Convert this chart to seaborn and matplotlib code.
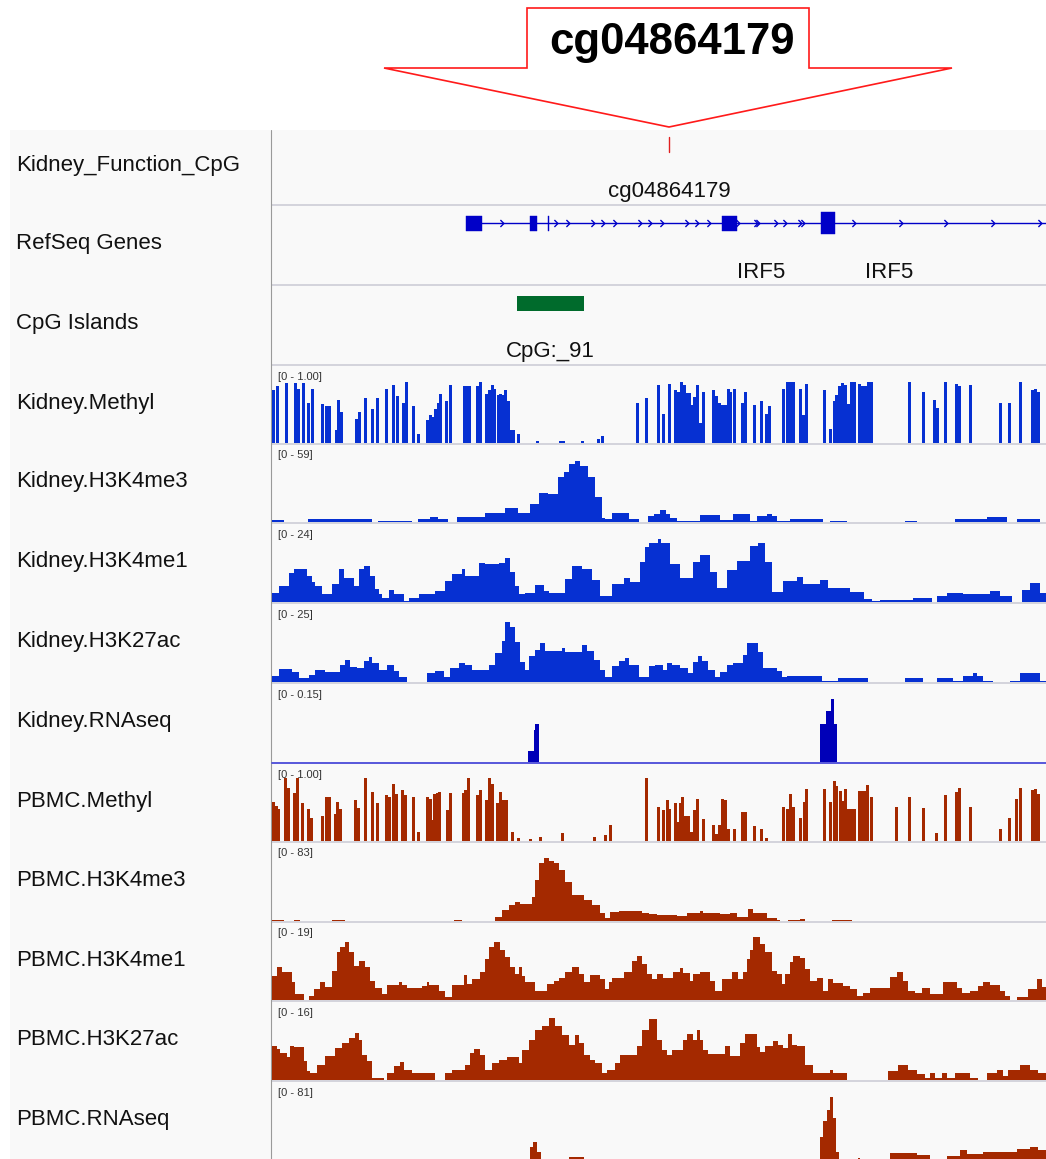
import numpy as np
import matplotlib
matplotlib.use("Agg")
import matplotlib.pyplot as plt
from matplotlib.patches import Polygon, Rectangle
import seaborn as sns

# ------------------------------------------------------------------ data
VIEW_START, VIEW_END = 0, 774          # relative genomic coordinate of the view

track_names = ["Kidney_Function_CpG", "RefSeq Genes", "CpG Islands",
               "Kidney.Methyl", "Kidney.H3K4me3", "Kidney.H3K4me1", "Kidney.H3K27ac",
               "Kidney.RNAseq", "PBMC.Methyl", "PBMC.H3K4me3", "PBMC.H3K4me1",
               "PBMC.H3K27ac", "PBMC.RNAseq"]

title_probe = "cg04864179"
probe_pos = 397
probe_name = "cg04864179"

gene_start, gene_end = 194, 774
exon_start = [194, 258, 275.5, 450, 549]
exon_end = [210, 265, 277, 465, 563]
exon_kind = ["utr", "utr", "utr", "utr", "cds"]
strand_marks = [229.5, 283.8, 296, 320.8, 330.7, 343, 367.7, 377.6, 390, 414.6, 424.5,
                436.8, 466.4, 483.7, 486, 503.5, 513.3, 528, 530.5, 582.4, 629.3, 673.7,
                720.6, 767.5]
gene_labels = ["IRF5", "IRF5"]
gene_label_pos = [489.5, 617]

cpg_island = (245, 312)
cpg_label = "CpG:_91"
cpg_label_pos = 278

# methylation: (CpG position, beta value)
kidney_methyl = [(1.3, .68), (5, .73), (14.7, .77), (23.3, .77), (26, .69), (31, .77), (36, .51),
                 (40, .69), (50.7, .50), (54.5, .47), (57.3, .47), (64, .17), (66.5, .55), (69, .40),
                 (84, .31), (87, .40), (93, .58), (100.7, .44), (105.7, .58), (114.7, .69), (121.5, .74),
                 (125, .60), (131, .51), (134, .78), (141.7, .47), (146.3, .12), (155.5, .29), (158.3, .36),
                 (161.3, .33), (163.5, .44), (166, .51), (168.5, .63), (174, .54), (178.3, .74), (192, .73),
                 (194.8, .73), (197.5, .73), (205.5, .73), (208.7, .78), (214.7, .63), (217.2, .68),
                 (220, .74), (222.8, .69), (226, .62), (228.7, .63), (231.2, .62), (233.7, .68),
                 (236.2, .54), (238.7, .17), (241, .17), (246.7, .12), (265, .03), (288, .03), (291, .03),
                 (310.5, .03), (326.7, .05), (330, .09), (365, .51), (374.3, .58), (386.3, .74),
                 (391.3, .37), (397, .76), (403.3, .68), (406, .65), (409.3, .78), (412, .74), (414.5, .64),
                 (417, .64), (419.5, .49), (422.7, .59), (425.5, .74), (428.7, .26), (431.8, .65),
                 (441, .68), (444, .60), (447, .51), (450, .49), (453, .49), (456, .69), (458.5, .65),
                 (462, .69), (470, .51), (473, .65), (482, .49), (489, .54), (494, .37), (497, .47),
                 (511, .69), (515, .78), (518, .78), (521, .78), (528, .69), (531, .36), (534, .76),
                 (552, .68), (558, .18), (562, .54), (564.5, .62), (567, .73), (570, .77), (573, .74),
                 (576, .50), (579, .78), (582, .78), (587, .76), (590, .73), (593, .73), (596, .78),
                 (599, .78), (637, .78), (651, .65), (662, .55), (665, .45), (673, .78), (684, .76),
                 (687, .73), (698, .74), (728, .51), (737, .51), (748, .78), (760, .68), (763, .69),
                 (766, .65)]

pbmc_methyl = [(1.3, .50), (4.7, .45), (6.5, .41), (13.8, .81), (16.3, .68), (22.5, .62), (25, .81),
               (30.7, .49), (36.8, .41), (39.8, .29), (50.3, .32), (54.5, .56), (57.3, .56), (63.5, .35),
               (65.5, .50), (68.3, .41), (83.7, .53), (86.7, .42), (93, .81), (100.3, .63), (105.3, .49),
               (114.7, .59), (117, .56), (121.7, .73), (124.8, .60), (130.5, .65), (133.5, .59),
               (141.3, .56), (146.3, .12), (155.5, .56), (158, .54), (160.3, .27), (162.7, .60),
               (165.3, .62), (167.7, .63), (175.3, .40), (178.3, .62), (191.8, .62), (193.9, .65),
               (196.3, .81), (205.3, .59), (208.7, .65), (214.7, .53), (217.3, .81), (220.2, .73),
               (225.3, .49), (228.3, .63), (231.3, .53), (234.3, .53), (240.3, .12), (246.7, .04),
               (258, .02), (268, .05), (290.7, .10), (322, .05), (333.5, .08), (338, .21), (374.3, .81),
               (386.3, .44), (391.3, .40), (395, .53), (397.5, .41), (403.3, .49), (406, .24),
               (408.5, .49), (410.7, .56), (413, .32), (416, .32), (419.3, .12), (422.7, .40),
               (425.3, .54), (431.2, .28), (441, .21), (444.5, .09), (447.5, .21), (450.5, .54),
               (453.5, .53), (456.5, .15), (462, .15), (470, .37), (473, .37), (482, .19), (489, .15),
               (494, .04), (511, .44), (515, .41), (518, .60), (521, .44), (528, .29), (532, .50),
               (534.5, .67), (552, .67), (558, .50), (562, .77), (564.5, .71), (568, .64), (571, .51),
               (573.3, .67), (576.3, .41), (579, .41), (582, .41), (587, .64), (590, .64), (593, .64),
               (595.5, .72), (599, .56), (624.3, .44), (637.8, .56), (651, .42), (664.7, .10),
               (673, .59), (684, .63), (687, .68), (698, .44), (728, .15), (737, .29), (744, .54),
               (748, .68), (760, .65), (763, .67), (766, .60)]

# coverage tracks: (segment start, signal) ; each segment runs to the next start
kidney_h3k4me3 = [(0, 1.5), (12, 0), (36, 2.3), (100, 0), (106, .8), (140, 0), (146, 2.3), (158, 3.8),
                  (166, 2.3), (176, 0), (185, 3.8), (213, 6.8), (233, 10.6), (246, 6.8), (258, 13.6),
                  (267, 21.9), (276, 21.2), (286, 34.0), (292, 37.8), (297, 43.8), (303, 46.1),
                  (308, 42.3), (316, 34.0), (323, 18.9), (330, 3.0), (333, 2.3), (340, 6.8), (357, 2.3),
                  (367, 0), (376, 4.5), (382, 6.0), (388, 9.1), (394, 6.0), (398, 3.0), (405, .8),
                  (428, 5.3), (448, 1.5), (461, 6.0), (478, .8), (485, 4.5), (495, 6.0), (500, 4.5),
                  (505, .8), (518, 2.3), (551, 0), (558, .8), (575, 0), (633, .8), (645, 0), (683, 2.3),
                  (715, 3.8), (735, 0), (745, 2.3), (768, 0)]

kidney_h3k4me1 = [(0, 2.8), (7, 4.9), (17, 8.9), (22, 10.2), (35, 8.0), (40, 6.2), (43, 4.9), (50, 2.5),
                  (60, 5.5), (67, 10.2), (72, 7.4), (82, 4.9), (87, 10.2), (92, 11.1), (98, 8.0),
                  (103, 4.0), (107, 2.5), (110, 1.2), (117, 3.7), (122, 2.5), (132, .3), (137, 1.2),
                  (147, 2.5), (163, 3.4), (173, 6.5), (180, 8.6), (190, 10.2), (193, 8.0), (207, 12.0),
                  (213, 11.7), (227, 12.0), (233, 13.6), (238, 9.2), (243, 4.9), (247, 2.5), (253, 2.8),
                  (263, 5.2), (272, 3.4), (277, 2.8), (293, 7.1), (300, 11.1), (310, 10.2), (320, 6.8),
                  (328, 1.8), (340, 5.5), (352, 7.4), (358, 6.2), (368, 12.3), (373, 16.9), (377, 18.2),
                  (386, 19.4), (389, 18.2), (398, 11.7), (408, 7.4), (421, 12.3), (428, 14.5), (438, 9.2),
                  (445, 4.3), (455, 9.9), (465, 12.6), (478, 17.2), (486, 18.2), (493, 12.3), (500, 3.1),
                  (511, 6.5), (525, 7.7), (531, 5.5), (548, 6.8), (556, 4.3), (578, 3.1), (592, .9),
                  (600, .3), (608, .6), (641, 1.2), (660, 0), (665, 1.8), (675, 2.8), (691, 2.5),
                  (718, 3.4), (728, 1.8), (740, 0), (750, 3.7), (758, 5.9), (768, 2.8)]

kidney_h3k27ac = [(0, 1.9), (7, 4.2), (20, 3.2), (27, 1.3), (37, 2.2), (43, 3.8), (53, 3.2), (68, 5.4),
                  (73, 7.0), (78, 4.8), (85, 4.5), (92, 6.7), (97, 8.0), (100, 6.1), (107, 3.8),
                  (115, 5.4), (122, 3.5), (127, 1.6), (135, 0), (155, 2.9), (163, 3.5), (172, 1.6),
                  (178, 4.5), (187, 6.1), (193, 5.4), (200, 3.8), (217, 5.4), (223, 9.3), (230, 13.1),
                  (233, 19.2), (238, 17.6), (243, 12.8), (248, 6.4), (253, 3.8), (257, 8.3), (263, 10.2),
                  (268, 12.5), (273, 9.9), (290, 10.9), (293, 9.6), (310, 11.8), (315, 9.9), (322, 7.0),
                  (328, 3.8), (333, 1.6), (340, 5.1), (347, 6.7), (353, 7.7), (357, 5.4), (367, 1.6),
                  (377, 5.1), (383, 5.4), (391, 3.8), (395, 6.1), (400, 5.4), (408, 4.5), (416, 2.9),
                  (421, 6.4), (426, 8.3), (430, 6.7), (436, 3.8), (443, 1.6), (448, 3.2), (455, 5.4),
                  (461, 6.1), (471, 8.6), (475, 12.5), (486, 9.6), (491, 4.5), (505, 3.5), (510, 1.6),
                  (515, 1.9), (550, .3), (566, 1.3), (596, 0), (633, 1.3), (651, 0), (665, 1.3),
                  (681, .3), (691, 1.9), (701, 2.9), (705, 1.9), (711, .3), (721, 0), (738, .3),
                  (748, 2.9), (768, .3)]

kidney_rnaseq = [(0, 0), (256, .021), (262, .062), (263, .073), (267, 0), (548, .073), (554, .098),
                 (559, .121), (562, .073), (565, 0)]

pbmc_h3k4me3 = [(0, 1.1), (12, 0), (22, 1.1), (28, 0), (60, 1.1), (73, 0), (182, 1.1), (190, 0),
                (223, 4.3), (230, 11.7), (237, 17.0), (243, 20.2), (248, 18.1), (260, 25.5), (263, 43.6),
                (267, 61.7), (272, 67.0), (277, 63.8), (282, 61.7), (287, 54.3), (293, 41.5), (300, 27.7),
                (312, 22.3), (320, 17.0), (328, 8.5), (333, 3.2), (338, 9.6), (347, 10.6), (370, 8.5),
                (377, 7.4), (385, 6.4), (405, 5.3), (415, 8.5), (428, 10.6), (431, 8.5), (448, 7.4),
                (458, 8.5), (465, 4.3), (476, 12.8), (481, 8.5), (495, 3.2), (505, 1.1), (508, 0),
                (516, 1.1), (528, 2.1), (533, 0), (560, 1.1), (580, 0)]

pbmc_h3k4me1 = [(0, 5.9), (5, 8.1), (10, 6.8), (20, 4.4), (23, 1.5), (32, 0), (37, 1.0), (42, 2.7),
                (48, 4.4), (53, 3.2), (60, 7.1), (65, 11.7), (68, 12.9), (73, 14.2), (77, 11.7), (82, 8.3),
                (87, 9.5), (93, 8.1), (98, 4.6), (103, 2.9), (110, 1.5), (115, 3.7), (127, 4.4),
                (130, 3.7), (135, 2.9), (150, 3.4), (155, 4.4), (157, 3.7), (167, 2.2), (173, .7),
                (180, 3.7), (192, 6.1), (195, 3.9), (200, 5.1), (208, 6.8), (213, 10.0), (217, 12.9),
                (222, 14.2), (228, 12.2), (233, 10.5), (238, 8.1), (243, 6.3), (247, 8.1), (250, 5.9),
                (253, 4.4), (263, 2.2), (275, 3.9), (282, 4.6), (287, 5.4), (293, 6.8), (300, 8.1),
                (307, 6.3), (312, 4.4), (318, 6.1), (328, 5.1), (333, 2.7), (337, 4.4), (340, 5.4),
                (352, 6.8), (360, 9.5), (365, 10.7), (370, 8.8), (375, 6.3), (380, 5.1), (385, 6.3),
                (391, 5.4), (401, 6.8), (408, 7.8), (411, 6.6), (418, 4.6), (421, 6.3), (428, 6.8),
                (438, 4.6), (443, 2.2), (450, 5.1), (460, 6.8), (466, 5.1), (471, 6.8), (475, 10.0),
                (478, 12.2), (481, 15.4), (488, 13.7), (493, 11.7), (500, 7.1), (505, 6.3), (510, 3.9),
                (513, 6.3), (518, 9.3), (521, 10.7), (528, 10.2), (533, 7.6), (538, 4.6), (545, 5.4),
                (551, 2.2), (556, 5.1), (561, 4.1), (571, 3.4), (578, 2.7), (585, 1.0), (591, 1.7),
                (598, 2.9), (618, 5.6), (625, 6.8), (631, 4.6), (636, 2.2), (643, 1.7), (650, 2.9),
                (658, 1.5), (671, 4.4), (685, 2.9), (690, 1.7), (698, 2.2), (706, 3.4), (711, 4.4),
                (718, 3.7), (728, 2.2), (733, 1.0), (738, 0), (745, .7), (756, 2.7), (765, 5.1),
                (770, 3.2)]

pbmc_h3k27ac = [(0, 7.0), (5, 6.4), (8, 5.5), (15, 4.7), (18, 7.0), (22, 6.8), (32, 3.9), (35, 1.8),
                (38, 1.4), (45, 3.1), (53, 4.9), (63, 6.6), (70, 7.6), (77, 8.6), (83, 9.6), (87, 8.2),
                (90, 5.1), (95, 3.9), (100, .4), (112, 0), (115, 1.4), (122, 2.9), (128, 3.7), (132, 2.1),
                (140, 1.4), (163, 0), (173, 1.4), (180, 2.1), (193, 3.1), (198, 5.5), (202, 6.4),
                (208, 5.1), (213, 2.1), (220, 3.5), (227, 4.1), (235, 4.7), (247, 3.5), (250, 6.2),
                (257, 8.2), (263, 10.3), (270, 11.1), (277, 12.7), (283, 11.1), (290, 9.2), (297, 7.2),
                (303, 9.2), (307, 7.6), (312, 5.1), (318, 4.1), (323, 3.5), (330, 1.4), (335, 2.1),
                (343, 3.5), (348, 5.1), (365, 7.0), (370, 10.3), (377, 12.5), (385, 8.2), (390, 6.2),
                (395, 5.1), (400, 6.2), (411, 8.2), (415, 9.4), (421, 8.2), (425, 10.3), (428, 8.2),
                (431, 6.2), (436, 5.3), (453, 7.0), (458, 4.9), (468, 7.6), (473, 9.4), (485, 6.8),
                (488, 5.7), (493, 7.0), (501, 8.0), (506, 7.2), (511, 6.6), (516, 9.4), (520, 7.2),
                (525, 7.0), (533, 3.1), (541, 1.4), (558, 2.1), (561, 1.4), (575, 0), (616, 1.8),
                (626, 3.1), (636, 2.1), (645, 1.2), (653, .4), (658, 1.4), (663, .4), (670, 1.4),
                (675, .4), (683, 1.4), (698, .4), (706, 0), (715, 1.4), (725, 2.1), (731, .8),
                (736, 2.1), (748, 3.1), (758, 2.1), (766, 1.4)]

pbmc_rnaseq = [(0, 0), (258, 14), (261, 19), (265, 8), (269, 0), (297, 3), (312, 0), (548, 24),
               (551, 41), (555, 52), (558, 65), (561, 44), (564, 8), (567, 0), (586, 2), (588, 0),
               (618, 7), (645, 5), (658, 0), (675, 4), (688, 10), (695, 6), (711, 8), (745, 11),
               (758, 13), (766, 10)]

range_labels = {3: "[0 - 1.00]", 4: "[0 - 59]", 5: "[0 - 24]", 6: "[0 - 25]", 7: "[0 - 0.15]",
                8: "[0 - 1.00]", 9: "[0 - 83]", 10: "[0 - 19]", 11: "[0 - 16]", 12: "[0 - 81]"}
range_max = {3: 1.0, 4: 59, 5: 24, 6: 25, 7: 0.15, 8: 1.0, 9: 83, 10: 19, 11: 16, 12: 81}

# ------------------------------------------------------------------ style / layout
sns.set_style("white")
plt.rcParams["font.family"] = ["Liberation Sans", "DejaVu Sans"]

W, H = 1046, 1159
KIDNEY = "#0630d2"
KIDNEY_RNA = "#0000b8"
PBMC = "#a42900"
GENE = "#0000c8"
SEP = "#d3d3dc"
PANEL = "#f9f9f9"
DATA_X0 = 272
T = [130, 205, 285, 365, 444, 523, 603, 683, 763, 842, 922, 1001, 1081, 1161]

fig = plt.figure(figsize=(W / 100, H / 100), dpi=100)
bg = fig.add_axes([0, 0, 1, 1])
bg.set_xlim(0, W)
bg.set_ylim(H, 0)
bg.axis("off")

# panel backgrounds
bg.add_patch(Rectangle((10, 130), W - 10, H - 130, facecolor=PANEL, edgecolor="none", zorder=0))
bg.plot([271, 271], [130, H], color="#9a9a9a", lw=0.8, zorder=2)
for i in range(1, 13):
    if i == 8:
        bg.plot([DATA_X0, W], [762.5, 762.5], color="#4a4ad8", lw=1.3, zorder=3)
    else:
        bg.plot([DATA_X0, W], [T[i], T[i]], color=SEP, lw=1.4, zorder=1)

# track names
for i, name in enumerate(track_names):
    bg.text(16, (T[i] + T[i + 1]) / 2 - 1.5, name, fontsize=16, va="center", ha="left",
            color="#111111", zorder=3)

# range labels
for i, lab in range_labels.items():
    bg.text(278, T[i] + 11.5, lab, fontsize=8, va="center", ha="left", color="#333333", zorder=1)

# title arrow
arrow = Polygon([(527, 8), (809, 8), (809, 68), (952, 68), (669, 127), (384, 68), (527, 68)],
                closed=True, facecolor="white", edgecolor="#ff1a1a", lw=1.2, zorder=2)
bg.add_patch(arrow)
bg.text(672, 54, title_probe, fontsize=31.5, fontweight="bold", ha="center", va="baseline",
        color="black", zorder=3)


def track_axes(top, bottom):
    ax = fig.add_axes([DATA_X0 / W, 1 - bottom / H, (W - DATA_X0) / W, (bottom - top) / H])
    ax.set_facecolor("none")
    ax.set_xlim(VIEW_START, VIEW_END)
    ax.axis("off")
    return ax


def feature_axes(i):
    ax = track_axes(T[i], T[i + 1])
    ax.set_ylim(T[i + 1] - T[i], 0)
    return ax


# Kidney_Function_CpG track
ax = feature_axes(0)
ax.plot([probe_pos, probe_pos], [7, 22], color="#e02020", lw=1.0)
ax.text(probe_pos, 61, probe_name, fontsize=16, ha="center", va="center", color="#111111")

# RefSeq genes
ax = feature_axes(1)
ax.plot([gene_start, gene_end], [18, 18], color=GENE, lw=1.0, solid_capstyle="butt")
for s, e, k in zip(exon_start, exon_end, exon_kind):
    hh = 22 if k == "cds" else 15
    ax.add_patch(Rectangle((s, 18 - hh / 2), e - s, hh, facecolor=GENE, edgecolor=GENE, lw=0.3))
chev = [(-0.6, 1.0), (0.4, 0.0), (-0.6, -1.0)]
ax.plot(strand_marks, [18] * len(strand_marks), ls="none", marker=chev, ms=5.0,
        mfc="none", mec=GENE, mew=1.0)
for lab, p in zip(gene_labels, gene_label_pos):
    ax.text(p, 67, lab, fontsize=16, ha="center", va="center", color="#111111")

# CpG islands
ax = feature_axes(2)
ax.add_patch(Rectangle((cpg_island[0], 11), cpg_island[1] - cpg_island[0], 15,
                       facecolor="#006b2c", edgecolor="none"))
ax.text(cpg_label_pos, 67, cpg_label, fontsize=16, ha="center", va="center", color="#111111")


def methyl_track(i, pairs, color):
    ax = track_axes(T[i + 1] - 79, T[i + 1] - 1)
    pos = [p for p, v in pairs]
    val = [v for p, v in pairs]
    ax.bar(pos, val, width=3.0, color=color, linewidth=0, align="center")
    ax.set_ylim(0, range_max[i])
    ax.set_xlim(VIEW_START, VIEW_END)


def signal_track(i, pairs, color):
    ax = track_axes(T[i + 1] - 79, T[i + 1] - 1)
    starts = [p for p, v in pairs]
    vals = [v for p, v in pairs]
    edges = starts + [VIEW_END]
    sns.histplot(x=starts, weights=vals, bins=edges, element="step", fill=True,
                 color=color, alpha=1, linewidth=0, ax=ax)
    ax.set_ylim(0, range_max[i])
    ax.set_xlim(VIEW_START, VIEW_END)
    ax.axis("off")


methyl_track(3, kidney_methyl, KIDNEY)
signal_track(4, kidney_h3k4me3, KIDNEY)
signal_track(5, kidney_h3k4me1, KIDNEY)
signal_track(6, kidney_h3k27ac, KIDNEY)
signal_track(7, kidney_rnaseq, KIDNEY_RNA)
methyl_track(8, pbmc_methyl, PBMC)
signal_track(9, pbmc_h3k4me3, PBMC)
signal_track(10, pbmc_h3k4me1, PBMC)
signal_track(11, pbmc_h3k27ac, PBMC)
signal_track(12, pbmc_rnaseq, PBMC)

fig.savefig("out.png", dpi=100)
